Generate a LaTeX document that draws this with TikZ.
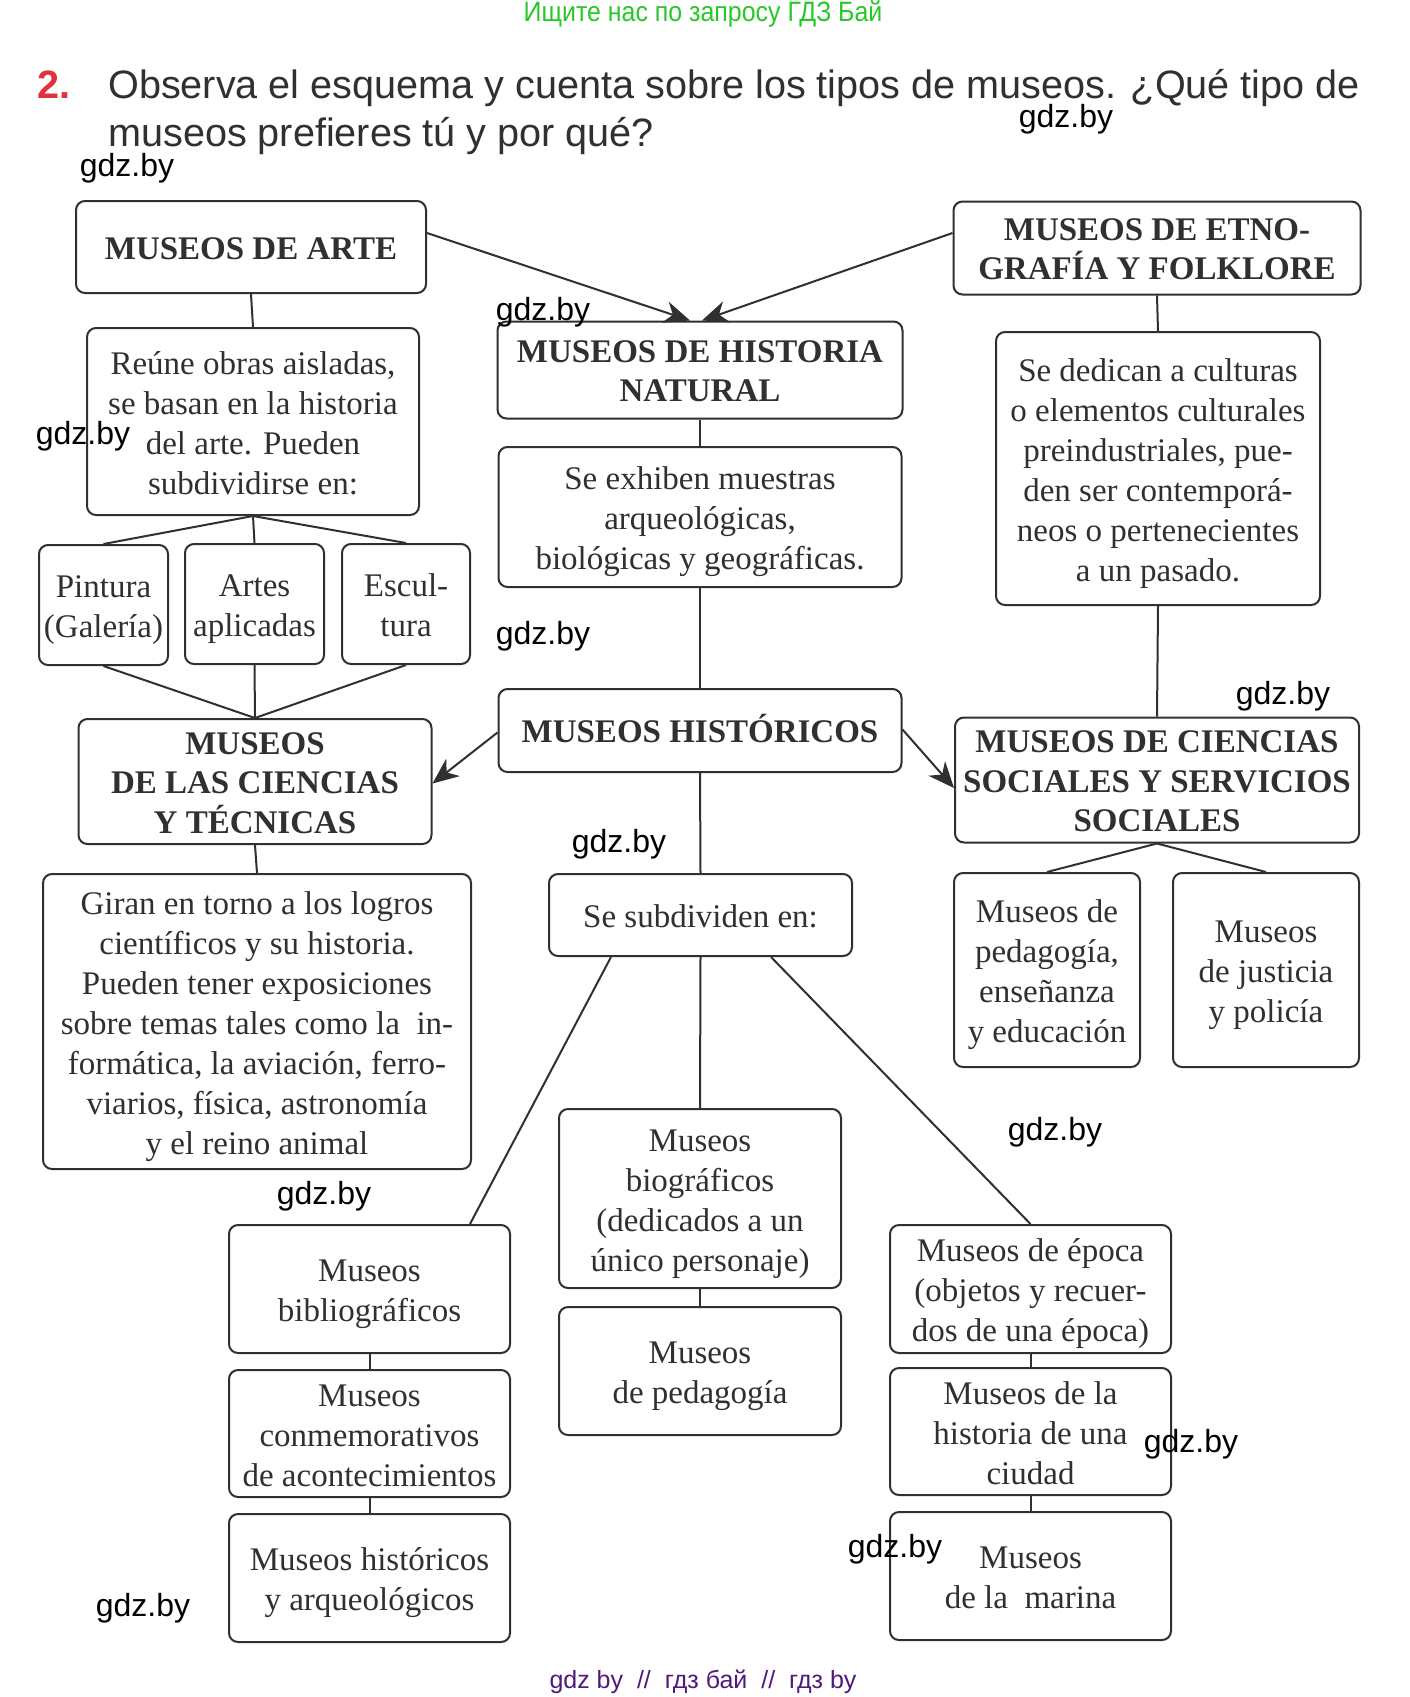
\documentclass[tikz,border=0pt]{standalone}
\usepackage{fontspec}
\setmainfont{Liberation Serif}
\newfontfamily\sansf{Liberation Sans}
\newfontfamily\narrowf[FakeStretch=0.89]{Liberation Sans}
\usetikzlibrary{arrows.meta}
\definecolor{lc}{HTML}{303030}
\definecolor{tc}{HTML}{303030}
\definecolor{hdrgreen}{RGB}{40,200,40}
\definecolor{ftpurple}{RGB}{80,25,125}
\definecolor{numred}{RGB}{225,50,60}
% struts: first-line height / last-line depth
\newcommand\mytopS{\rule{0pt}{36pt}}
\newcommand\mybotS{\rule[-11pt]{0pt}{11pt}}
\newcommand\mytopB{\rule{0pt}{35pt}}
\newcommand\mybotB{\rule[-11pt]{0pt}{11pt}}
\begin{document}
\begin{tikzpicture}[x=1pt,y=-1pt,
 box/.style={draw=lc, line width=2pt, rounded corners=9pt, inner sep=0pt, align=center, text=tc, font=\fontsize{33}{40}\selectfont},
 bbox/.style={box, font=\fontsize{33}{39.5}\selectfont\bfseries},
 conn/.style={draw=lc, line width=2pt},
 arr/.style={conn, -{Stealth[length=26pt,width=22pt,inset=8pt]}},
 wm/.style={font=\sansf\fontsize{32}{36}\selectfont, text=black, inner sep=0pt},
]
\useasboundingbox[fill=white] (0,0) rectangle (1409,1697);

% header / title / footer
\node[font=\narrowf\fontsize{28}{32}\selectfont, text=hdrgreen, inner sep=0pt] (hdr) at (703,14) {Ищите нас по запросу ГДЗ Бай};
\node[anchor=base west, inner sep=0pt, font=\sansf\bfseries\fontsize{39.6}{47}\selectfont, text=numred] (num) at (37,98) {2.};
\node[anchor=base west, inner sep=0pt, font=\sansf\fontsize{39.6}{47}\selectfont, text=tc] (t1) at (108,98) {Observa el esquema y cuenta sobre los tipos de museos. ¿Qué tipo de};
\node[anchor=base west, inner sep=0pt, font=\sansf\fontsize{39.6}{47}\selectfont, text=tc] (t2) at (108,146) {museos prefieres tú y por qué?};
\node[font=\sansf\fontsize{25}{30}\selectfont, text=ftpurple, inner sep=0pt] (ftr) at (703,1682) {gdz by \ // \ гдз бай \ // \ гдз by};

% boxes
\node[bbox, minimum width=350pt, minimum height=92pt] (arte) at (251,247) {\mytopB MUSEOS DE ARTE\mybotB};
\node[bbox, minimum width=407pt, minimum height=93pt] (etno) at (1157,248) {\mytopB MUSEOS DE ETNO-\\GRAFÍA Y FOLKLORE\mybotB};
\node[bbox, minimum width=405pt, minimum height=97pt] (histnat) at (700,370) {\mytopB MUSEOS DE HISTORIA\\NATURAL\mybotB};
\node[box, minimum width=332pt, minimum height=187pt] (reune) at (253,421.5) {\mytopS Reúne obras aisladas,\\se basan en la historia\\del arte. Pueden\\subdividirse en:\mybotS};
\node[box, minimum width=403pt, minimum height=140pt] (exhiben) at (700,517) {\mytopS Se exhiben muestras\\arqueológicas,\\biológicas y geográficas.\mybotS};
\node[box, minimum width=324pt, minimum height=273pt] (dedican) at (1158,468.5) {\mytopS Se dedican a culturas\\o elementos culturales\\preindustriales, pue-\\den ser contemporá-\\neos o pertenecientes\\a un pasado.\mybotS};
\node[box, minimum width=129pt, minimum height=120pt] (pintura) at (103.5,605) {\mytopS Pintura\\(Galería)\mybotS};
\node[box, minimum width=139pt, minimum height=120pt] (artes) at (254.5,604) {\mytopS Artes\\aplicadas\mybotS};
\node[box, minimum width=128pt, minimum height=120pt] (escul) at (406,604) {\mytopS Escul-\\tura\mybotS};
\node[bbox, minimum width=353pt, minimum height=121pt] (ciencias) at (255,781.5) {\mytopB MUSEOS\\DE LAS CIENCIAS\\Y TÉCNICAS\mybotB};
\node[bbox, minimum width=403pt, minimum height=83pt] (historicos) at (700,730.5) {\mytopB MUSEOS HISTÓRICOS\mybotB};
\node[bbox, minimum width=404pt, minimum height=121pt] (sociales) at (1157,780) {\mytopB MUSEOS DE CIENCIAS\\SOCIALES Y SERVICIOS\\SOCIALES\mybotB};
\node[box, minimum width=428pt, minimum height=295pt] (giran) at (257,1021.5) {\mytopS Giran en torno a los logros\\científicos y su historia.\\Pueden tener exposiciones\\sobre temas tales como la\ \ in-\\formática, la aviación, ferro-\\viarios, física, astronomía\\y el reino animal\mybotS};
\node[box, minimum width=303pt, minimum height=82pt] (subdiv) at (700.5,915) {\mytopS Se subdividen en:\mybotS};
\node[box, minimum width=186pt, minimum height=194pt] (pedens) at (1047,970) {\mytopS Museos de\\pedagogía,\\enseñanza\\y educación\mybotS};
\node[box, minimum width=186pt, minimum height=194pt] (justicia) at (1266,970) {\mytopS Museos\\de justicia\\y policía\mybotS};
\node[box, minimum width=281pt, minimum height=128pt] (biblio) at (369.5,1289) {\mytopS Museos\\bibliográficos\mybotS};
\node[box, minimum width=281pt, minimum height=127pt] (conmem) at (369.5,1433.5) {\mytopS Museos\\conmemorativos\\de acontecimientos\mybotS};
\node[box, minimum width=281pt, minimum height=128pt] (histarq) at (369.5,1578) {\mytopS Museos históricos\\y arqueológicos\mybotS};
\node[box, minimum width=282pt, minimum height=179pt] (biograf) at (700,1198.5) {\mytopS Museos\\biográficos\\(dedicados a un\\único personaje)\mybotS};
\node[box, minimum width=282pt, minimum height=128pt] (pedag) at (700,1371) {\mytopS Museos\\de pedagogía\mybotS};
\node[box, minimum width=281pt, minimum height=128pt] (epoca) at (1030.5,1289) {\mytopS Museos de época\\(objetos y recuer-\\dos de una época)\mybotS};
\node[box, minimum width=281pt, minimum height=127pt] (ciudad) at (1030.5,1431.5) {\mytopS Museos de la\\historia de una\\ciudad\mybotS};
\node[box, minimum width=281pt, minimum height=128pt] (marina) at (1030.5,1576) {\mytopS Museos\\de la\ \ marina\mybotS};

% connectors
\draw[arr] ([yshift=14pt]arte.east) -- ([xshift=-10pt]histnat.north);
\draw[arr] ([yshift=15pt]etno.west) -- ([xshift=2pt]histnat.north);
\draw[conn] (arte.south) -- (reune.north);
\draw[conn] (reune.south) -- (pintura.north);
\draw[conn] (reune.south) -- (artes.north);
\draw[conn] (reune.south) -- (escul.north);
\draw[conn] (pintura.south) -- (ciencias.north);
\draw[conn] (artes.south) -- (ciencias.north);
\draw[conn] (escul.south) -- (ciencias.north);
\draw[conn] (histnat.south) -- (exhiben.north);
\draw[conn] (exhiben.south) -- (historicos.north);
\draw[conn] (etno.south) -- (dedican.north);
\draw[conn] (dedican.south) -- (sociales.north);
\draw[arr] ([yshift=-2pt]historicos.west) -- ([yshift=-2pt]ciencias.east);
\draw[arr] ([yshift=1pt]historicos.east) -- ([yshift=-8pt]sociales.west);
\draw[conn] (ciencias.south) -- (giran.north);
\draw[conn] (historicos.south) -- (subdiv.north);
\draw[conn] (sociales.south) -- (pedens.north);
\draw[conn] (sociales.south) -- (justicia.north);
\draw[conn] ([xshift=-89.5pt]subdiv.south) -- ([xshift=100.5pt]biblio.north);
\draw[conn] (subdiv.south) -- (biograf.north);
\draw[conn] ([xshift=70.5pt]subdiv.south) -- (epoca.north);
\draw[conn] (biblio.south) -- (conmem.north);
\draw[conn] (conmem.south) -- (histarq.north);
\draw[conn] (biograf.south) -- (pedag.north);
\draw[conn] (epoca.south) -- (ciudad.north);
\draw[conn] (ciudad.south) -- (marina.north);

% watermarks
\node[wm] (w1) at (1066,119) {gdz.by};
\node[wm] (w2) at (127,168) {gdz.by};
\node[wm] (w3) at (543,312) {gdz.by};
\node[wm] (w4) at (83,436) {gdz.by};
\node[wm] (w5) at (543,636) {gdz.by};
\node[wm] (w6) at (1283,696) {gdz.by};
\node[wm] (w7) at (619,844) {gdz.by};
\node[wm] (w8) at (1055,1132) {gdz.by};
\node[wm] (w9) at (324,1196) {gdz.by};
\node[wm] (w10) at (1191,1444) {gdz.by};
\node[wm] (w11) at (895,1549) {gdz.by};
\node[wm] (w12) at (143,1608) {gdz.by};
\end{tikzpicture}
\end{document}
